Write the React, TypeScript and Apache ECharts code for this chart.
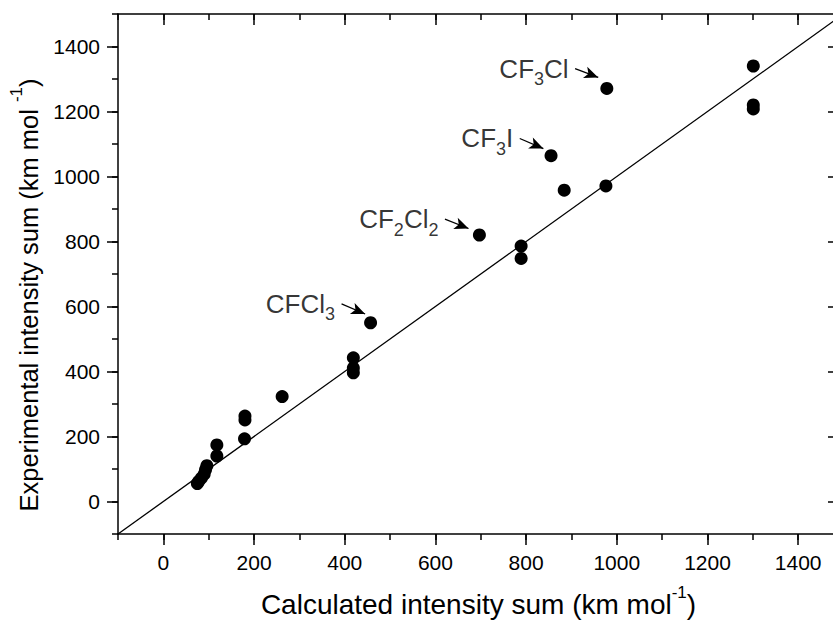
import React, { useEffect, useRef } from "react";
import * as echarts from "echarts";

// Calculated vs experimental intensity sums (km mol^-1)
const calcX = [1301, 1301, 1301, 978, 855, 884, 976, 697, 789, 789, 457, 419, 419, 419, 262, 180, 180, 179, 118, 118, 96, 93, 90, 84, 78, 75];
const expY = [1340, 1220, 1208, 1271, 1064, 958, 971, 820, 786, 748, 550, 442, 411, 396, 323, 263, 251, 193, 174, 140, 110, 98, 84, 72, 62, 55];

// y = x reference line
const lineX = [-100, 1500];
const lineY = [-100, 1500];

// Annotations (arrow start / arrow tip in data coordinates)
const annotationLabels = ["{m|CF}{s|3}{m|Cl}", "{m|CF}{s|3}{m|I}", "{m|CF}{s|2}{m|Cl}{s|2}", "{m|CFCl}{s|3}"];
const arrowStart = [[908, 1332], [786, 1117], [621, 869], [393, 608]];
const arrowEnd = [[959, 1305], [838, 1086], [673, 840], [445, 577]];

// Axis ranges and tick labels
const xMin = -100, xMax = 1490;
const yMin = -100, yMax = 1500;
const xMajor = [0, 200, 400, 600, 800, 1000, 1200, 1400];
const yMajor = [0, 200, 400, 600, 800, 1000, 1200, 1400];

const FONT = "'Liberation Sans', Arial, Helvetica, sans-serif";

function makeAxes(dim: "x" | "y") {
  const major = dim === "x" ? xMajor : yMajor;
  const min = dim === "x" ? xMin : yMin;
  const max = dim === "x" ? xMax : yMax;
  const p1 = dim === "x" ? "bottom" : "left";
  const p2 = dim === "x" ? "top" : "right";
  const base = { type: "value", min, max, splitLine: { show: false } };
  const lineSt = { color: "#000", width: 1.5 };
  return [
    {
      ...base,
      position: p1,
      axisLine: { show: true, onZero: false, lineStyle: lineSt },
      axisTick: { show: true, inside: false, length: 11, customValues: major, lineStyle: lineSt },
      axisLabel: {
        show: true,
        customValues: major,
        color: "#000",
        fontSize: 21,
        fontFamily: FONT,
        margin: 18,
        formatter: (v: number) => String(v),
      },
    },
    {
      ...base,
      position: p1,
      interval: 100,
      axisLine: { show: false, onZero: false },
      axisTick: { show: true, inside: false, length: 6, lineStyle: lineSt },
      axisLabel: { show: false },
    },
    {
      ...base,
      position: p2,
      axisLine: { show: true, onZero: false, lineStyle: lineSt },
      axisTick: { show: true, inside: true, length: 11, customValues: major, lineStyle: lineSt },
      axisLabel: { show: false },
    },
    {
      ...base,
      position: p2,
      interval: 100,
      axisLine: { show: false, onZero: false },
      axisTick: { show: true, inside: true, length: 6, lineStyle: lineSt },
      axisLabel: { show: false },
    },
  ];
}

export default function App() {
  const ref = useRef<HTMLDivElement>(null);
  useEffect(() => {
    if (!ref.current) return;
    const chart = echarts.init(ref.current, undefined, { renderer: "svg" });
    const xAxes: any[] = makeAxes("x");
    const yAxes: any[] = makeAxes("y");
    xAxes[0].name = "{a|Calculated intensity sum (km mol}{sup|-1}{a|)}";
    xAxes[0].nameLocation = "middle";
    xAxes[0].nameGap = 32;
    xAxes[0].nameTextStyle = {
      fontFamily: FONT,
      color: "#000",
      rich: {
        a: { fontSize: 28, lineHeight: 30, fontFamily: FONT, color: "#000", verticalAlign: "bottom" },
        sup: { fontSize: 17, lineHeight: 52, fontFamily: FONT, color: "#000", verticalAlign: "middle" },
      },
    };
    yAxes[0].name = "{a|Experimental intensity sum (km mol }{sup|-1}{a|)}";
    yAxes[0].nameLocation = "middle";
    yAxes[0].nameGap = 66;
    yAxes[0].nameTextStyle = {
      fontFamily: FONT,
      color: "#000",
      padding: [0, 42, 0, 0],
      rich: {
        a: { fontSize: 25.5, lineHeight: 30, fontFamily: FONT, color: "#000", verticalAlign: "bottom" },
        sup: { fontSize: 17, lineHeight: 52, fontFamily: FONT, color: "#000", verticalAlign: "middle" },
      },
    };

    chart.setOption({
      animation: false,
      backgroundColor: "#fff",
      grid: { left: 118, top: 14, right: 11, bottom: 91, containLabel: false, outerBoundsMode: "none" },
      xAxis: xAxes,
      yAxis: yAxes,
      series: [
        {
          type: "line",
          data: lineX.map((x, i) => [x, lineY[i]]),
          showSymbol: false,
          symbol: "none",
          lineStyle: { color: "#000", width: 1.3 },
          clip: true,
          silent: true,
          z: 1,
        },
        {
          type: "scatter",
          data: calcX.map((x, i) => [x, expY[i]]),
          symbol: "circle",
          symbolSize: 13,
          itemStyle: { color: "#000", opacity: 1 },
          z: 3,
        },
        {
          type: "scatter",
          data: arrowStart,
          symbolSize: 1,
          itemStyle: { color: "rgba(0,0,0,0)" },
          label: {
            show: true,
            position: "left",
            distance: 6,
            offset: [0, 10.5],
            color: "#000",
            formatter: (p: any) => annotationLabels[p.dataIndex],
            rich: {
              m: { fontSize: 26, lineHeight: 26, fontFamily: FONT, color: "#000", verticalAlign: "top" },
              s: { fontSize: 18, lineHeight: 47, fontFamily: FONT, color: "#000", verticalAlign: "middle" },
            },
          },
          markLine: {
            silent: true,
            symbol: ["none", "arrow"],
            symbolSize: [9, 14],
            label: { show: false },
            lineStyle: { color: "#000", width: 1.3, type: "solid" },
            data: arrowStart.map((s, i) => [{ coord: s }, { coord: arrowEnd[i] }]),
          },
          z: 4,
        },
      ],
    });
    return () => chart.dispose();
  }, []);
  return (
    <div style={{ position: "fixed", left: 0, top: 0, width: 833, height: 625, overflow: "hidden", background: "#fff" }}>
      <div ref={ref} style={{ width: 850, height: 625 }} />
    </div>
  );
}
